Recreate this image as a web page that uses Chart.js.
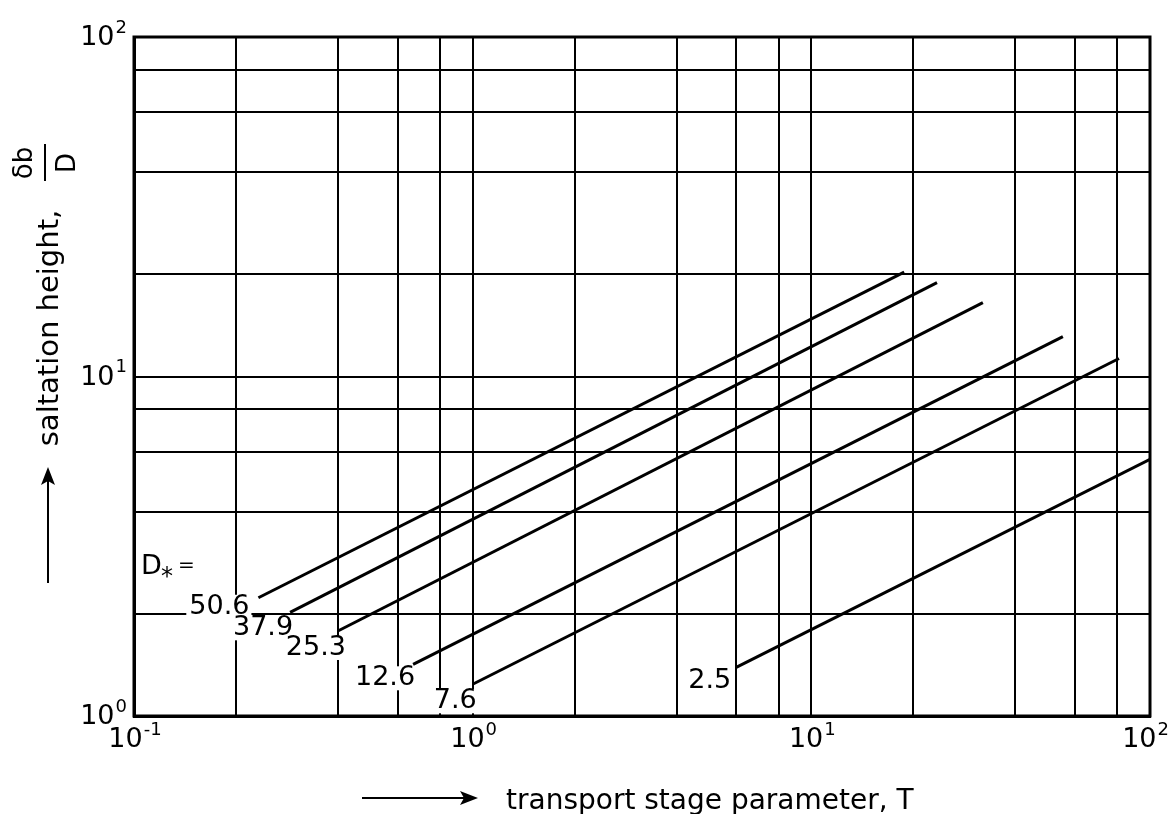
<!DOCTYPE html>
<html>
<head>
<meta charset="utf-8">
<script src="https://cdn.jsdelivr.net/npm/chart.js@4"></script>
<style>
	html, body { margin: 0; padding: 0; background: #fff; }
	#wrap { width: 1171px; height: 814px; }
</style>
</head>
<body>
<div id="wrap"><canvas id="saltation-chart" width="1171" height="814"></canvas></div>
<script>
"use strict";

// D* value for each line, and its two end points (T, delta_b/D)
const curveLabels = ['50.6', '37.9', '25.3', '12.6', '7.6', '2.5'];
const stageStart = [0.233, 0.289, 0.40, 0.667, 1.0, 6.0];
const stageEnd = [18.8, 23.5, 32.1, 55.3, 81, 100];
const heightStart = [2.23, 2.02, 1.78, 1.42, 1.24, 1.39];
const heightEnd = [20.3, 18.9, 16.5, 13.1, 11.3, 5.70];

// grid lines and decade tick labels
const xGridValues = [0.1, 0.2, 0.4, 0.6, 0.8, 1, 2, 4, 6, 8, 10, 20, 40, 60, 80, 100];
const yGridValues = [1, 2, 4, 6, 8, 10, 20, 40, 60, 80, 100];
const xTickValues = [0.1, 1, 10, 100];
const xTickExponents = ['-1', '0', '1', '2'];
const yTickValues = [1, 10, 100];
const yTickExponents = ['0', '1', '2'];

const FONT = '"DejaVu Sans", Arial, sans-serif';
// where each curve label sits relative to the start of its line (px, right edge / middle)
const labelOffsets = [[-9, 9], [3, 16], [8, 17], [2, 14], [4, 17], [-5, 14]];


function drawPower(ctx, exponent, x, y, align) {
	ctx.font = '27px ' + FONT;
	const wBase = ctx.measureText('10').width;
	ctx.font = '18px ' + FONT;
	const wExp = ctx.measureText(exponent).width;
	const total = wBase + 1 + wExp;
	let left = x;
	if (align === 'right') left = x - total;
	if (align === 'center') left = x - total / 2;
	// keep the last label inside the page
	if (left + total > ctx.canvas.width - 2) left = ctx.canvas.width - 2 - total;
	ctx.textAlign = 'left';
	ctx.textBaseline = 'middle';
	ctx.font = '27px ' + FONT;
	ctx.fillText('10', left, y);
	ctx.font = '18px ' + FONT;
	ctx.fillText(exponent, left + wBase + 1, y - 10);
}


function drawArrowHead(ctx, x, y, dir) {
	// dir: 'right' or 'up'
	ctx.beginPath();
	if (dir === 'right') {
		ctx.moveTo(x, y);
		ctx.lineTo(x - 18, y - 7);
		ctx.lineTo(x - 14, y);
		ctx.lineTo(x - 18, y + 7);
	} else {
		ctx.moveTo(x, y);
		ctx.lineTo(x - 7, y + 18);
		ctx.lineTo(x, y + 14);
		ctx.lineTo(x + 7, y + 18);
	}
	ctx.closePath();
	ctx.fill();
}


const paperPlugin = {
	id: 'paper',
	beforeDatasetsDraw(chart) {
		const ctx = chart.ctx;
		const xs = chart.scales.x;
		const ys = chart.scales.y;
		const area = chart.chartArea;
		ctx.save();
		ctx.strokeStyle = '#000';
		ctx.lineWidth = 3;
		ctx.strokeRect(area.left, area.top, area.right - area.left, area.bottom - area.top);

		ctx.font = '27px ' + FONT;
		ctx.textAlign = 'right';
		ctx.textBaseline = 'middle';
		curveLabels.forEach((lab, i) => {
			const px = xs.getPixelForValue(stageStart[i]) + labelOffsets[i][0];
			const py = ys.getPixelForValue(heightStart[i]) + labelOffsets[i][1];
			const w = ctx.measureText(lab).width;
			ctx.fillStyle = '#fff';
			ctx.fillRect(px - w - 3, py - 12, w + 5, 24);
			ctx.fillStyle = '#000';
			ctx.fillText(lab, px, py);
		});

		// "D* =" heading of the curve labels
		ctx.textAlign = 'left';
		ctx.font = '27px ' + FONT;
		ctx.fillText('D', 141, 567);
		ctx.font = '24px ' + FONT;
		ctx.fillText('*', 161, 578);
		ctx.font = '20px ' + FONT;
		ctx.fillText('=', 178, 566);
		ctx.restore();
	},
	afterDraw(chart) {
		const ctx = chart.ctx;
		const xs = chart.scales.x;
		const ys = chart.scales.y;
		const area = chart.chartArea;
		ctx.save();
		ctx.fillStyle = '#000';
		ctx.strokeStyle = '#000';

		xTickValues.forEach((v, i) => {
			drawPower(ctx, xTickExponents[i], xs.getPixelForValue(v) + 1, area.bottom + 24, 'center');
		});
		yTickValues.forEach((v, i) => {
			drawPower(ctx, yTickExponents[i], area.left - 7, ys.getPixelForValue(v) + 1, 'right');
		});

		// x title with arrow
		ctx.lineWidth = 2;
		ctx.beginPath();
		ctx.moveTo(362, 798);
		ctx.lineTo(470, 798);
		ctx.stroke();
		drawArrowHead(ctx, 478, 798, 'right');
		ctx.font = '28px ' + FONT;
		ctx.textAlign = 'left';
		ctx.textBaseline = 'alphabetic';
		ctx.fillText('transport stage parameter, T', 506, 809);

		// y title with arrow
		ctx.beginPath();
		ctx.moveTo(48, 583);
		ctx.lineTo(48, 476);
		ctx.stroke();
		drawArrowHead(ctx, 48, 467, 'up');

		ctx.translate(58, 328);
		ctx.rotate(-Math.PI / 2);
		ctx.font = '29px ' + FONT;
		ctx.textAlign = 'center';
		ctx.fillText('saltation height,', 0, 0);
		ctx.font = '26px ' + FONT;
		ctx.fillText('\u03b4b', 165, -26);
		ctx.fillText('D', 165, 17);
		ctx.lineWidth = 2;
		ctx.beginPath();
		ctx.moveTo(147, -13);
		ctx.lineTo(184, -13);
		ctx.stroke();
		ctx.restore();
	}
};


function displaySaltationChart() {
	const datasets = curveLabels.map((lab, i) => ({
		label: 'D* = ' + lab,
		data: [
			{x: stageStart[i], y: heightStart[i]},
			{x: stageEnd[i], y: heightEnd[i]}
		],
		showLine: true,
		borderColor: '#000',
		borderWidth: 3,
		pointRadius: 0,
		fill: false
	}));

	const ctx = document.querySelector('#saltation-chart').getContext('2d');
	new Chart(ctx, {
		type: 'scatter',
		data: { datasets: datasets },
		options: {
			responsive: false,
			animation: false,
			devicePixelRatio: 1,
			layout: { padding: { left: 134, right: 21, top: 37, bottom: 98 } },
			plugins: {
				legend: { display: false },
				tooltip: { enabled: false }
			},
			scales: {
				x: {
					type: 'logarithmic',
					min: 0.1,
					max: 100,
					afterBuildTicks: (axis) => { axis.ticks = xGridValues.map(v => ({ value: v })); },
					ticks: { display: false },
					grid: { color: '#000', lineWidth: 2, drawTicks: false },
					border: { display: true, color: '#000', width: 3 }
				},
				y: {
					type: 'logarithmic',
					min: 1,
					max: 100,
					afterBuildTicks: (axis) => { axis.ticks = yGridValues.map(v => ({ value: v })); },
					ticks: { display: false },
					grid: { color: '#000', lineWidth: 2, drawTicks: false },
					border: { display: true, color: '#000', width: 3 }
				}
			}
		},
		plugins: [paperPlugin]
	});
}

displaySaltationChart();
</script>
</body>
</html>
